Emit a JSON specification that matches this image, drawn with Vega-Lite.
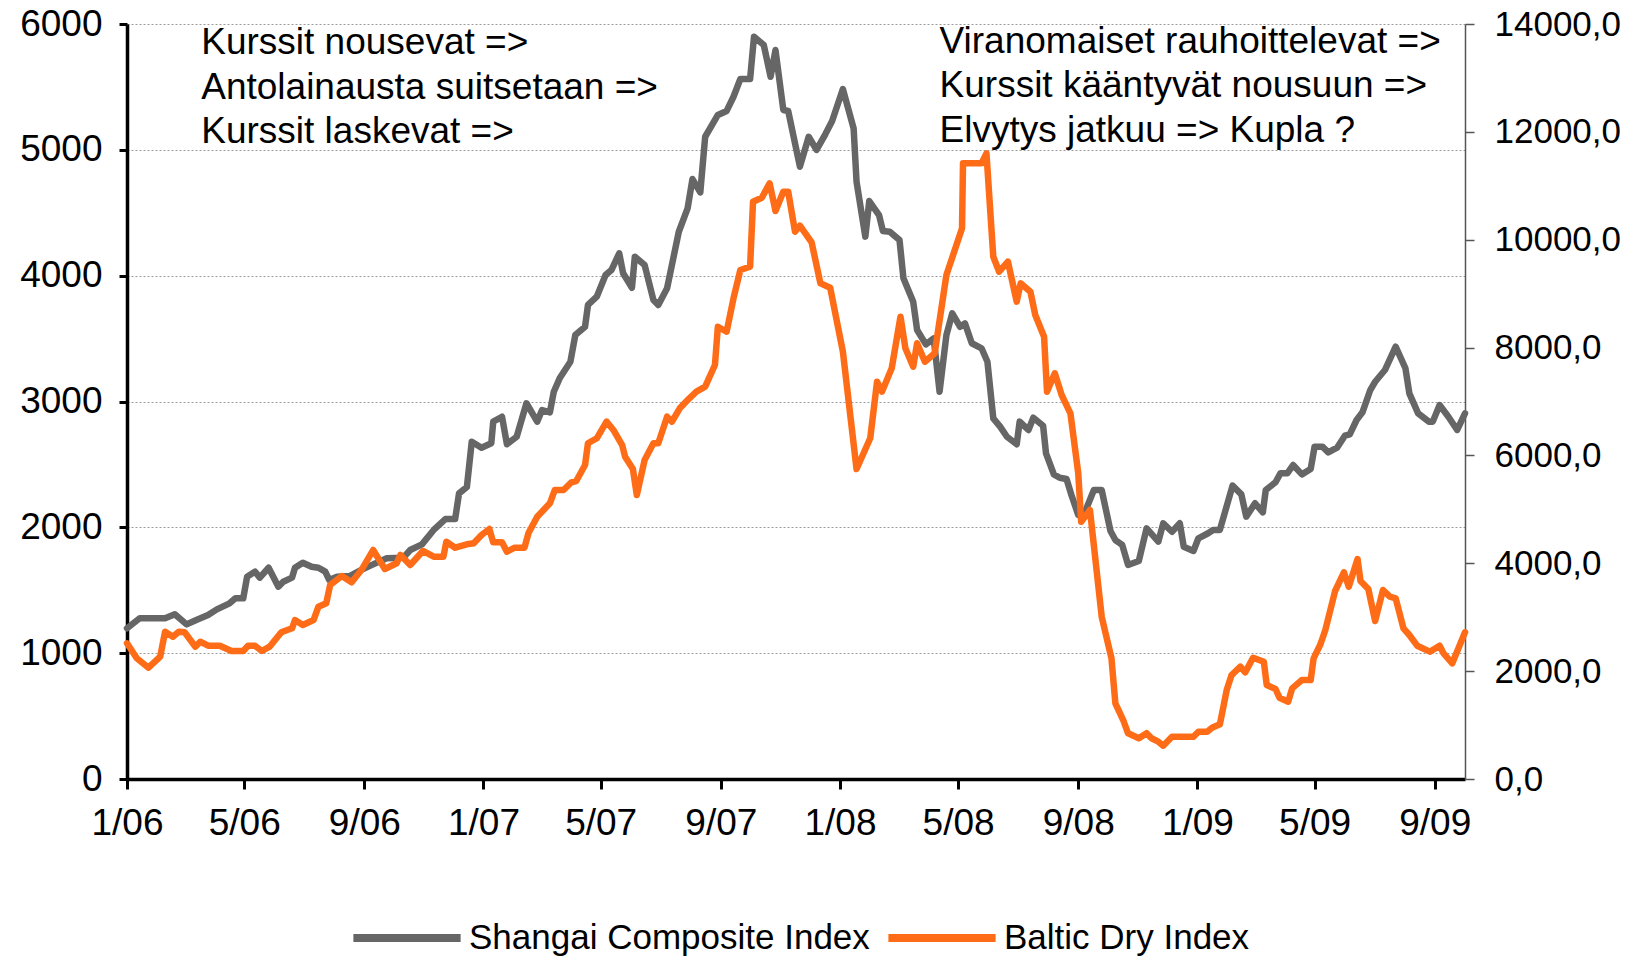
{
  "$schema": "https://vega.github.io/schema/vega-lite/v6.json",
  "width": 1338,
  "height": 755,
  "autosize": {"type": "none"},
  "padding": {"left": 127, "top": 24, "right": 167, "bottom": 180},
  "background": "white",
  "config": {
    "font": "Liberation Sans",
    "view": {"stroke": null},
    "axis": {"labelFont": "Liberation Sans", "labelColor": "#000000", "title": null}
  },
  "datasets": {
    "sse": [
      {"date": "2006-01-01", "value": 1198}, {"date": "2006-01-14", "value": 1277}, {"date": "2006-02-09", "value": 1277}, {"date": "2006-02-19", "value": 1309},
      {"date": "2006-03-03", "value": 1229}, {"date": "2006-03-13", "value": 1264}, {"date": "2006-03-25", "value": 1303}, {"date": "2006-04-03", "value": 1348},
      {"date": "2006-04-16", "value": 1396}, {"date": "2006-04-22", "value": 1436}, {"date": "2006-04-30", "value": 1436}, {"date": "2006-05-04", "value": 1608},
      {"date": "2006-05-12", "value": 1648}, {"date": "2006-05-17", "value": 1600}, {"date": "2006-05-26", "value": 1679}, {"date": "2006-06-05", "value": 1528},
      {"date": "2006-06-10", "value": 1568}, {"date": "2006-06-19", "value": 1600}, {"date": "2006-06-22", "value": 1679}, {"date": "2006-06-30", "value": 1719},
      {"date": "2006-07-09", "value": 1687}, {"date": "2006-07-16", "value": 1679}, {"date": "2006-07-23", "value": 1648}, {"date": "2006-07-27", "value": 1582},
      {"date": "2006-08-04", "value": 1608}, {"date": "2006-08-17", "value": 1613}, {"date": "2006-08-29", "value": 1663}, {"date": "2006-09-10", "value": 1706},
      {"date": "2006-09-24", "value": 1754}, {"date": "2006-10-11", "value": 1759}, {"date": "2006-10-18", "value": 1820}, {"date": "2006-10-30", "value": 1865},
      {"date": "2006-11-11", "value": 1979}, {"date": "2006-11-23", "value": 2066}, {"date": "2006-12-03", "value": 2066}, {"date": "2006-12-07", "value": 2270},
      {"date": "2006-12-15", "value": 2320}, {"date": "2006-12-20", "value": 2681}, {"date": "2006-12-30", "value": 2633}, {"date": "2007-01-09", "value": 2668},
      {"date": "2007-01-11", "value": 2840}, {"date": "2007-01-20", "value": 2879}, {"date": "2007-01-25", "value": 2660}, {"date": "2007-02-04", "value": 2720},
      {"date": "2007-02-14", "value": 2986}, {"date": "2007-02-25", "value": 2840}, {"date": "2007-03-02", "value": 2932}, {"date": "2007-03-10", "value": 2914},
      {"date": "2007-03-14", "value": 3078}, {"date": "2007-03-20", "value": 3184}, {"date": "2007-03-31", "value": 3316}, {"date": "2007-04-05", "value": 3528},
      {"date": "2007-04-15", "value": 3594}, {"date": "2007-04-18", "value": 3767}, {"date": "2007-04-27", "value": 3833}, {"date": "2007-05-06", "value": 4005},
      {"date": "2007-05-12", "value": 4045}, {"date": "2007-05-20", "value": 4178}, {"date": "2007-05-24", "value": 4019}, {"date": "2007-06-02", "value": 3904},
      {"date": "2007-06-05", "value": 4151}, {"date": "2007-06-15", "value": 4085}, {"date": "2007-06-24", "value": 3807}, {"date": "2007-06-29", "value": 3767},
      {"date": "2007-07-08", "value": 3900}, {"date": "2007-07-20", "value": 4349}, {"date": "2007-07-29", "value": 4535}, {"date": "2007-08-03", "value": 4768},
      {"date": "2007-08-11", "value": 4662}, {"date": "2007-08-16", "value": 5104}, {"date": "2007-08-29", "value": 5277}, {"date": "2007-09-07", "value": 5309},
      {"date": "2007-09-14", "value": 5422}, {"date": "2007-09-21", "value": 5563}, {"date": "2007-10-01", "value": 5563}, {"date": "2007-10-05", "value": 5899},
      {"date": "2007-10-15", "value": 5833}, {"date": "2007-10-22", "value": 5581}, {"date": "2007-10-27", "value": 5793}, {"date": "2007-11-04", "value": 5317},
      {"date": "2007-11-09", "value": 5309}, {"date": "2007-11-21", "value": 4866}, {"date": "2007-11-30", "value": 5104}, {"date": "2007-12-08", "value": 4999},
      {"date": "2007-12-17", "value": 5123}, {"date": "2007-12-24", "value": 5229}, {"date": "2008-01-04", "value": 5483}, {"date": "2008-01-15", "value": 5171},
      {"date": "2008-01-18", "value": 4747}, {"date": "2008-01-27", "value": 4310}, {"date": "2008-01-31", "value": 4593}, {"date": "2008-02-10", "value": 4482},
      {"date": "2008-02-14", "value": 4355}, {"date": "2008-02-21", "value": 4349}, {"date": "2008-03-02", "value": 4283}, {"date": "2008-03-06", "value": 3979},
      {"date": "2008-03-16", "value": 3793}, {"date": "2008-03-20", "value": 3568}, {"date": "2008-03-29", "value": 3454}, {"date": "2008-04-06", "value": 3502},
      {"date": "2008-04-12", "value": 3078}, {"date": "2008-04-19", "value": 3528}, {"date": "2008-04-25", "value": 3701}, {"date": "2008-05-03", "value": 3594},
      {"date": "2008-05-08", "value": 3621}, {"date": "2008-05-15", "value": 3463}, {"date": "2008-05-25", "value": 3423}, {"date": "2008-05-31", "value": 3316},
      {"date": "2008-06-06", "value": 2866}, {"date": "2008-06-13", "value": 2800}, {"date": "2008-06-20", "value": 2720}, {"date": "2008-06-30", "value": 2660},
      {"date": "2008-07-03", "value": 2840}, {"date": "2008-07-12", "value": 2774}, {"date": "2008-07-17", "value": 2871}, {"date": "2008-07-27", "value": 2808},
      {"date": "2008-07-30", "value": 2588}, {"date": "2008-08-07", "value": 2421}, {"date": "2008-08-13", "value": 2394}, {"date": "2008-08-20", "value": 2384},
      {"date": "2008-08-25", "value": 2257}, {"date": "2008-09-01", "value": 2098}, {"date": "2008-09-06", "value": 2085}, {"date": "2008-09-17", "value": 2297},
      {"date": "2008-09-25", "value": 2297}, {"date": "2008-10-04", "value": 1971}, {"date": "2008-10-09", "value": 1899}, {"date": "2008-10-16", "value": 1860},
      {"date": "2008-10-22", "value": 1701}, {"date": "2008-11-02", "value": 1732}, {"date": "2008-11-10", "value": 1992}, {"date": "2008-11-22", "value": 1886},
      {"date": "2008-11-27", "value": 2032}, {"date": "2008-12-06", "value": 1965}, {"date": "2008-12-14", "value": 2032}, {"date": "2008-12-18", "value": 1846},
      {"date": "2008-12-28", "value": 1812}, {"date": "2009-01-02", "value": 1913}, {"date": "2009-01-12", "value": 1953}, {"date": "2009-01-17", "value": 1979},
      {"date": "2009-01-24", "value": 1979}, {"date": "2009-02-06", "value": 2331}, {"date": "2009-02-15", "value": 2262}, {"date": "2009-02-20", "value": 2085},
      {"date": "2009-03-01", "value": 2191}, {"date": "2009-03-09", "value": 2119}, {"date": "2009-03-12", "value": 2297}, {"date": "2009-03-22", "value": 2358},
      {"date": "2009-03-27", "value": 2429}, {"date": "2009-04-03", "value": 2429}, {"date": "2009-04-09", "value": 2495}, {"date": "2009-04-18", "value": 2421},
      {"date": "2009-04-27", "value": 2464}, {"date": "2009-05-01", "value": 2641}, {"date": "2009-05-09", "value": 2641}, {"date": "2009-05-15", "value": 2596},
      {"date": "2009-05-24", "value": 2633}, {"date": "2009-06-01", "value": 2728}, {"date": "2009-06-06", "value": 2739}, {"date": "2009-06-13", "value": 2853},
      {"date": "2009-06-19", "value": 2914}, {"date": "2009-06-27", "value": 3091}, {"date": "2009-07-02", "value": 3157}, {"date": "2009-07-12", "value": 3250},
      {"date": "2009-07-23", "value": 3436}, {"date": "2009-08-02", "value": 3264}, {"date": "2009-08-06", "value": 3065}, {"date": "2009-08-15", "value": 2906},
      {"date": "2009-08-26", "value": 2840}, {"date": "2009-08-30", "value": 2840}, {"date": "2009-09-06", "value": 2972}, {"date": "2009-09-15", "value": 2879},
      {"date": "2009-09-24", "value": 2774}, {"date": "2009-10-02", "value": 2906}
    ],
    "bdi": [
      {"date": "2006-01-01", "value": 2516}, {"date": "2006-01-11", "value": 2238}, {"date": "2006-01-23", "value": 2064}, {"date": "2006-02-04", "value": 2268},
      {"date": "2006-02-09", "value": 2731}, {"date": "2006-02-17", "value": 2639}, {"date": "2006-02-23", "value": 2731}, {"date": "2006-03-01", "value": 2720},
      {"date": "2006-03-12", "value": 2453}, {"date": "2006-03-17", "value": 2546}, {"date": "2006-03-25", "value": 2472}, {"date": "2006-04-06", "value": 2472},
      {"date": "2006-04-18", "value": 2373}, {"date": "2006-04-30", "value": 2373}, {"date": "2006-05-05", "value": 2472}, {"date": "2006-05-12", "value": 2472},
      {"date": "2006-05-19", "value": 2373}, {"date": "2006-05-27", "value": 2453}, {"date": "2006-06-08", "value": 2720}, {"date": "2006-06-19", "value": 2794},
      {"date": "2006-06-22", "value": 2948}, {"date": "2006-06-30", "value": 2856}, {"date": "2006-07-11", "value": 2948}, {"date": "2006-07-16", "value": 3195},
      {"date": "2006-07-24", "value": 3258}, {"date": "2006-07-28", "value": 3597}, {"date": "2006-08-09", "value": 3764}, {"date": "2006-08-19", "value": 3647},
      {"date": "2006-08-29", "value": 3875}, {"date": "2006-09-10", "value": 4246}, {"date": "2006-09-22", "value": 3894}, {"date": "2006-10-04", "value": 4000},
      {"date": "2006-10-08", "value": 4154}, {"date": "2006-10-18", "value": 3968}, {"date": "2006-10-31", "value": 4228}, {"date": "2006-11-11", "value": 4122},
      {"date": "2006-11-21", "value": 4122}, {"date": "2006-11-24", "value": 4400}, {"date": "2006-12-03", "value": 4289}, {"date": "2006-12-15", "value": 4352},
      {"date": "2006-12-22", "value": 4370}, {"date": "2006-12-30", "value": 4524}, {"date": "2007-01-07", "value": 4636}, {"date": "2007-01-11", "value": 4389},
      {"date": "2007-01-20", "value": 4389}, {"date": "2007-01-25", "value": 4215}, {"date": "2007-02-02", "value": 4289}, {"date": "2007-02-12", "value": 4289},
      {"date": "2007-02-16", "value": 4556}, {"date": "2007-02-25", "value": 4864}, {"date": "2007-03-10", "value": 5112}, {"date": "2007-03-15", "value": 5359},
      {"date": "2007-03-24", "value": 5359}, {"date": "2007-04-01", "value": 5502}, {"date": "2007-04-06", "value": 5526}, {"date": "2007-04-15", "value": 5822},
      {"date": "2007-04-18", "value": 6225}, {"date": "2007-04-27", "value": 6318}, {"date": "2007-05-07", "value": 6626}, {"date": "2007-05-14", "value": 6472},
      {"date": "2007-05-23", "value": 6193}, {"date": "2007-05-26", "value": 5977}, {"date": "2007-06-03", "value": 5748}, {"date": "2007-06-07", "value": 5266},
      {"date": "2007-06-15", "value": 5915}, {"date": "2007-06-24", "value": 6225}, {"date": "2007-06-29", "value": 6225}, {"date": "2007-07-08", "value": 6718},
      {"date": "2007-07-13", "value": 6626}, {"date": "2007-07-21", "value": 6874}, {"date": "2007-07-30", "value": 7046}, {"date": "2007-08-07", "value": 7182},
      {"date": "2007-08-16", "value": 7275}, {"date": "2007-08-26", "value": 7677}, {"date": "2007-08-29", "value": 8387}, {"date": "2007-09-07", "value": 8294},
      {"date": "2007-09-14", "value": 8913}, {"date": "2007-09-21", "value": 9438}, {"date": "2007-10-01", "value": 9500}, {"date": "2007-10-04", "value": 10705},
      {"date": "2007-10-13", "value": 10779}, {"date": "2007-10-21", "value": 11046}, {"date": "2007-10-27", "value": 10532}, {"date": "2007-11-04", "value": 10891},
      {"date": "2007-11-09", "value": 10891}, {"date": "2007-11-16", "value": 10149}, {"date": "2007-11-21", "value": 10260}, {"date": "2007-12-03", "value": 9950},
      {"date": "2007-12-12", "value": 9191}, {"date": "2007-12-22", "value": 9111}, {"date": "2008-01-04", "value": 7924}, {"date": "2008-01-18", "value": 5748},
      {"date": "2008-02-01", "value": 6318}, {"date": "2008-02-08", "value": 7367}, {"date": "2008-02-13", "value": 7182}, {"date": "2008-02-23", "value": 7615},
      {"date": "2008-03-03", "value": 8573}, {"date": "2008-03-08", "value": 7986}, {"date": "2008-03-16", "value": 7645}, {"date": "2008-03-20", "value": 8079},
      {"date": "2008-03-28", "value": 7738}, {"date": "2008-04-07", "value": 7894}, {"date": "2008-04-19", "value": 9346}, {"date": "2008-05-05", "value": 10211},
      {"date": "2008-05-06", "value": 11417}, {"date": "2008-05-25", "value": 11417}, {"date": "2008-05-30", "value": 11602}, {"date": "2008-06-06", "value": 9685},
      {"date": "2008-06-12", "value": 9407}, {"date": "2008-06-21", "value": 9592}, {"date": "2008-06-30", "value": 8851}, {"date": "2008-07-04", "value": 9191},
      {"date": "2008-07-14", "value": 9036}, {"date": "2008-07-19", "value": 8604}, {"date": "2008-07-28", "value": 8202}, {"date": "2008-07-31", "value": 7182},
      {"date": "2008-08-08", "value": 7523}, {"date": "2008-08-15", "value": 7120}, {"date": "2008-08-24", "value": 6781}, {"date": "2008-09-01", "value": 5669},
      {"date": "2008-09-04", "value": 4771}, {"date": "2008-09-13", "value": 4988}, {"date": "2008-09-25", "value": 3010}, {"date": "2008-10-05", "value": 2238},
      {"date": "2008-10-09", "value": 1404}, {"date": "2008-10-17", "value": 1094}, {"date": "2008-10-22", "value": 847}, {"date": "2008-11-02", "value": 755},
      {"date": "2008-11-10", "value": 850}, {"date": "2008-11-15", "value": 755}, {"date": "2008-11-22", "value": 692}, {"date": "2008-11-27", "value": 618},
      {"date": "2008-12-06", "value": 784}, {"date": "2008-12-28", "value": 784}, {"date": "2009-01-02", "value": 877}, {"date": "2009-01-11", "value": 877},
      {"date": "2009-01-16", "value": 951}, {"date": "2009-01-24", "value": 1014}, {"date": "2009-01-31", "value": 1650}, {"date": "2009-02-05", "value": 1928},
      {"date": "2009-02-14", "value": 2083}, {"date": "2009-02-19", "value": 1978}, {"date": "2009-02-27", "value": 2249}, {"date": "2009-03-10", "value": 2175},
      {"date": "2009-03-13", "value": 1743}, {"date": "2009-03-22", "value": 1669}, {"date": "2009-03-26", "value": 1508}, {"date": "2009-04-04", "value": 1434},
      {"date": "2009-04-08", "value": 1681}, {"date": "2009-04-18", "value": 1836}, {"date": "2009-04-27", "value": 1836}, {"date": "2009-04-30", "value": 2238},
      {"date": "2009-05-07", "value": 2498}, {"date": "2009-05-12", "value": 2763}, {"date": "2009-05-22", "value": 3486}, {"date": "2009-05-31", "value": 3833},
      {"date": "2009-06-05", "value": 3566}, {"date": "2009-06-14", "value": 4079}, {"date": "2009-06-17", "value": 3672}, {"date": "2009-06-25", "value": 3523},
      {"date": "2009-07-02", "value": 2930}, {"date": "2009-07-10", "value": 3505}, {"date": "2009-07-17", "value": 3381}, {"date": "2009-07-23", "value": 3351},
      {"date": "2009-07-31", "value": 2794}, {"date": "2009-08-06", "value": 2670}, {"date": "2009-08-14", "value": 2472}, {"date": "2009-08-27", "value": 2361},
      {"date": "2009-09-06", "value": 2472}, {"date": "2009-09-10", "value": 2331}, {"date": "2009-09-19", "value": 2145}, {"date": "2009-10-02", "value": 2720}
    ],
    "notes": [
      {"date": "2006-03-18", "value": 5850, "label": "Kurssit nousevat =>"},
      {"date": "2006-03-18", "value": 5495, "label": "Antolainausta suitsetaan =>"},
      {"date": "2006-03-18", "value": 5140, "label": "Kurssit laskevat =>"},
      {"date": "2008-04-12", "value": 5860, "label": "Viranomaiset rauhoittelevat =>"},
      {"date": "2008-04-12", "value": 5505, "label": "Kurssit kääntyvät nousuun =>"},
      {"date": "2008-04-12", "value": 5150, "label": "Elvytys jatkuu => Kupla ?"}
    ]
  },
  "layer": [
    {
      "data": {"name": "sse"},
      "mark": {"type": "line", "strokeWidth": 6.5, "strokeJoin": "round", "strokeCap": "round"},
      "encoding": {
        "x": {
          "field": "date", "type": "temporal",
          "scale": {"type": "utc", "domain": [{"year": 2006, "month": 1, "date": 1, "utc": true}, {"year": 2009, "month": 10, "date": 2, "utc": true}]},
          "axis": {
            "values": [
              {"year": 2006, "month": 1, "date": 1, "utc": true}, {"year": 2006, "month": 5, "date": 1, "utc": true}, {"year": 2006, "month": 9, "date": 1, "utc": true},
              {"year": 2007, "month": 1, "date": 1, "utc": true}, {"year": 2007, "month": 5, "date": 1, "utc": true}, {"year": 2007, "month": 9, "date": 1, "utc": true},
              {"year": 2008, "month": 1, "date": 1, "utc": true}, {"year": 2008, "month": 5, "date": 1, "utc": true}, {"year": 2008, "month": 9, "date": 1, "utc": true},
              {"year": 2009, "month": 1, "date": 1, "utc": true}, {"year": 2009, "month": 5, "date": 1, "utc": true}, {"year": 2009, "month": 9, "date": 1, "utc": true}
            ],
            "labelExpr": "utcFormat(datum.value, '%-m/%y')",
            "grid": false,
            "domainColor": "#000000", "domainWidth": 3.5,
            "tickColor": "#000000", "tickWidth": 3, "tickSize": 10,
            "labelFontSize": 37, "labelPadding": 16, "labelFlush": false, "labelOverlap": false
          }
        },
        "y": {
          "field": "value", "type": "quantitative",
          "scale": {"domain": [0, 6000], "nice": false, "zero": true},
          "axis": {
            "orient": "left",
            "values": [0, 1000, 2000, 3000, 4000, 5000, 6000],
            "format": "d",
            "grid": true, "gridDash": [2, 2], "gridColor": "#9a9a9a", "gridWidth": 1,
            "domainColor": "#000000", "domainWidth": 3.5,
            "tickColor": "#000000", "tickWidth": 3, "tickSize": 8,
            "labelFontSize": 37, "labelPadding": 17, "labelFlush": false, "labelOverlap": false
          }
        },
        "color": {
          "datum": "Shangai Composite Index",
          "type": "nominal",
          "scale": {"domain": ["Shangai Composite Index", "Baltic Dry Index"], "range": ["#666666", "#ff6c17"]},
          "legend": {
            "title": null,
            "orient": "none",
            "legendX": 222,
            "legendY": 856,
            "direction": "horizontal",
            "symbolType": "stroke",
            "symbolSize": 11500,
            "symbolStrokeWidth": 8,
            "labelFontSize": 35,
            "labelLimit": 0,
            "labelColor": "#000000",
            "labelOffset": 4,
            "columnPadding": 2,
            "padding": 0
          }
        }
      }
    },
    {
      "data": {"name": "bdi"},
      "mark": {"type": "line", "strokeWidth": 6.5, "strokeJoin": "round", "strokeCap": "round"},
      "encoding": {
        "x": {"field": "date", "type": "temporal"},
        "y": {
          "field": "value", "type": "quantitative",
          "scale": {"domain": [0, 14000], "nice": false, "zero": true},
          "axis": {
            "orient": "right",
            "values": [0, 2000, 4000, 6000, 8000, 10000, 12000, 14000],
            "labelExpr": "replace(format(datum.value, '.1f'), '.', ',')",
            "grid": false,
            "domainColor": "#555555", "domainWidth": 1.5,
            "tickColor": "#555555", "tickWidth": 1.5, "tickSize": 9,
            "labelFontSize": 35, "labelPadding": 20, "labelFlush": false, "labelOverlap": false
          }
        },
        "color": {"datum": "Baltic Dry Index", "type": "nominal"}
      }
    },
    {
      "data": {"name": "notes"},
      "mark": {"type": "text", "align": "left", "baseline": "middle", "fontSize": 37, "font": "Liberation Sans", "color": "#000000"},
      "encoding": {
        "x": {"field": "date", "type": "temporal"},
        "y": {"field": "value", "type": "quantitative", "scale": {"domain": [0, 6000], "nice": false}, "axis": null},
        "text": {"field": "label"}
      }
    }
  ],
  "resolve": {"scale": {"y": "independent"}}
}
